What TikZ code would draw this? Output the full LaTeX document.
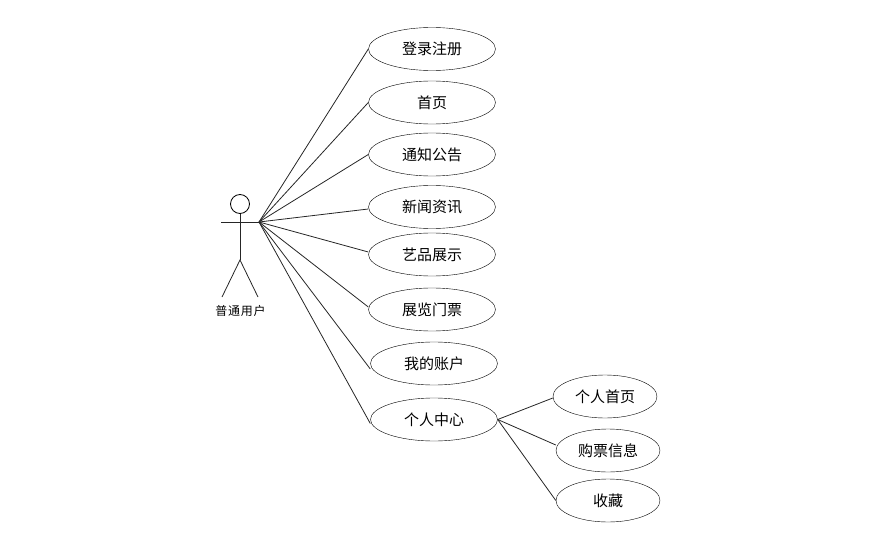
\documentclass[tikz,border=0pt]{standalone}
\usepackage{fontspec}
\usetikzlibrary{shapes.geometric}
\setmainfont{Noto Sans CJK SC}
\tikzset{
  usecase/.style={draw, ellipse, inner sep=0pt, minimum width=127pt, minimum height=43pt, font=\fontsize{15pt}{17pt}\selectfont},
  subcase/.style={usecase, minimum width=104pt},
  link/.style={line width=0.8pt, draw=black!85}
}
\begin{document}
\begin{tikzpicture}[x=1pt, y=-1pt]
  \useasboundingbox (0,0) rectangle (876,543);
  % Actor
  \node[draw, circle, line width=0.8pt, inner sep=0pt, minimum size=19pt] (head) at (240,204) {};
  \coordinate (armL) at (221,222);
  \coordinate (armR) at (259,222);
  \coordinate (hip) at (240,260);
  \coordinate (footL) at (222,297);
  \coordinate (footR) at (258,297);
  \draw[link] (head.south) -- (hip);
  \draw[link] (armL) -- (armR);
  \draw[link] (footL) -- (hip) -- (footR);
  \node[font=\fontsize{12pt}{14pt}\selectfont, inner sep=0pt] (user) at (240.5,311) {普\kern0.8pt 通\kern0.8pt 用\kern0.8pt 户};
  % Main use cases
  \node[usecase] (login) at (432,49) {登录注册};
  \node[usecase] (home) at (432,102.5) {首页};
  \node[usecase] (notice) at (432,154.5) {通知公告};
  \node[usecase] (news) at (432,207) {新闻资讯};
  \node[usecase] (art) at (432,254.5) {艺品展示};
  \node[usecase] (ticket) at (432,309.5) {展览门票};
  \node[usecase] (account) at (434,363.5) {我的账户};
  \node[usecase] (center) at (434,419.5) {个人中心};
  % Personal center children
  \node[subcase] (profile) at (605,396.5) {个人首页};
  \node[subcase] (orders) at (608,450.5) {购票信息};
  \node[subcase] (favorite) at (608,500.5) {收藏};
  % Connectors
  \draw[link] (armR) -- (login.west);
  \draw[link] (armR) -- (home.west);
  \draw[link] (armR) -- (notice.west);
  \draw[link] (armR) -- ([yshift=-2pt]news.west);
  \draw[link] (armR) -- ([yshift=2.5pt]art.west);
  \draw[link] (armR) -- ([yshift=2.5pt]ticket.west);
  \draw[link] (armR) -- ([yshift=-5.5pt]account.west);
  \draw[link] (armR) -- ([yshift=-4pt]center.west);
  \draw[link] (center.east) -- ([yshift=-1.5pt]profile.west);
  \draw[link] (center.east) -- ([yshift=5.5pt]orders.west);
  \draw[link] (center.east) -- (favorite.west);
\end{tikzpicture}
\end{document}
